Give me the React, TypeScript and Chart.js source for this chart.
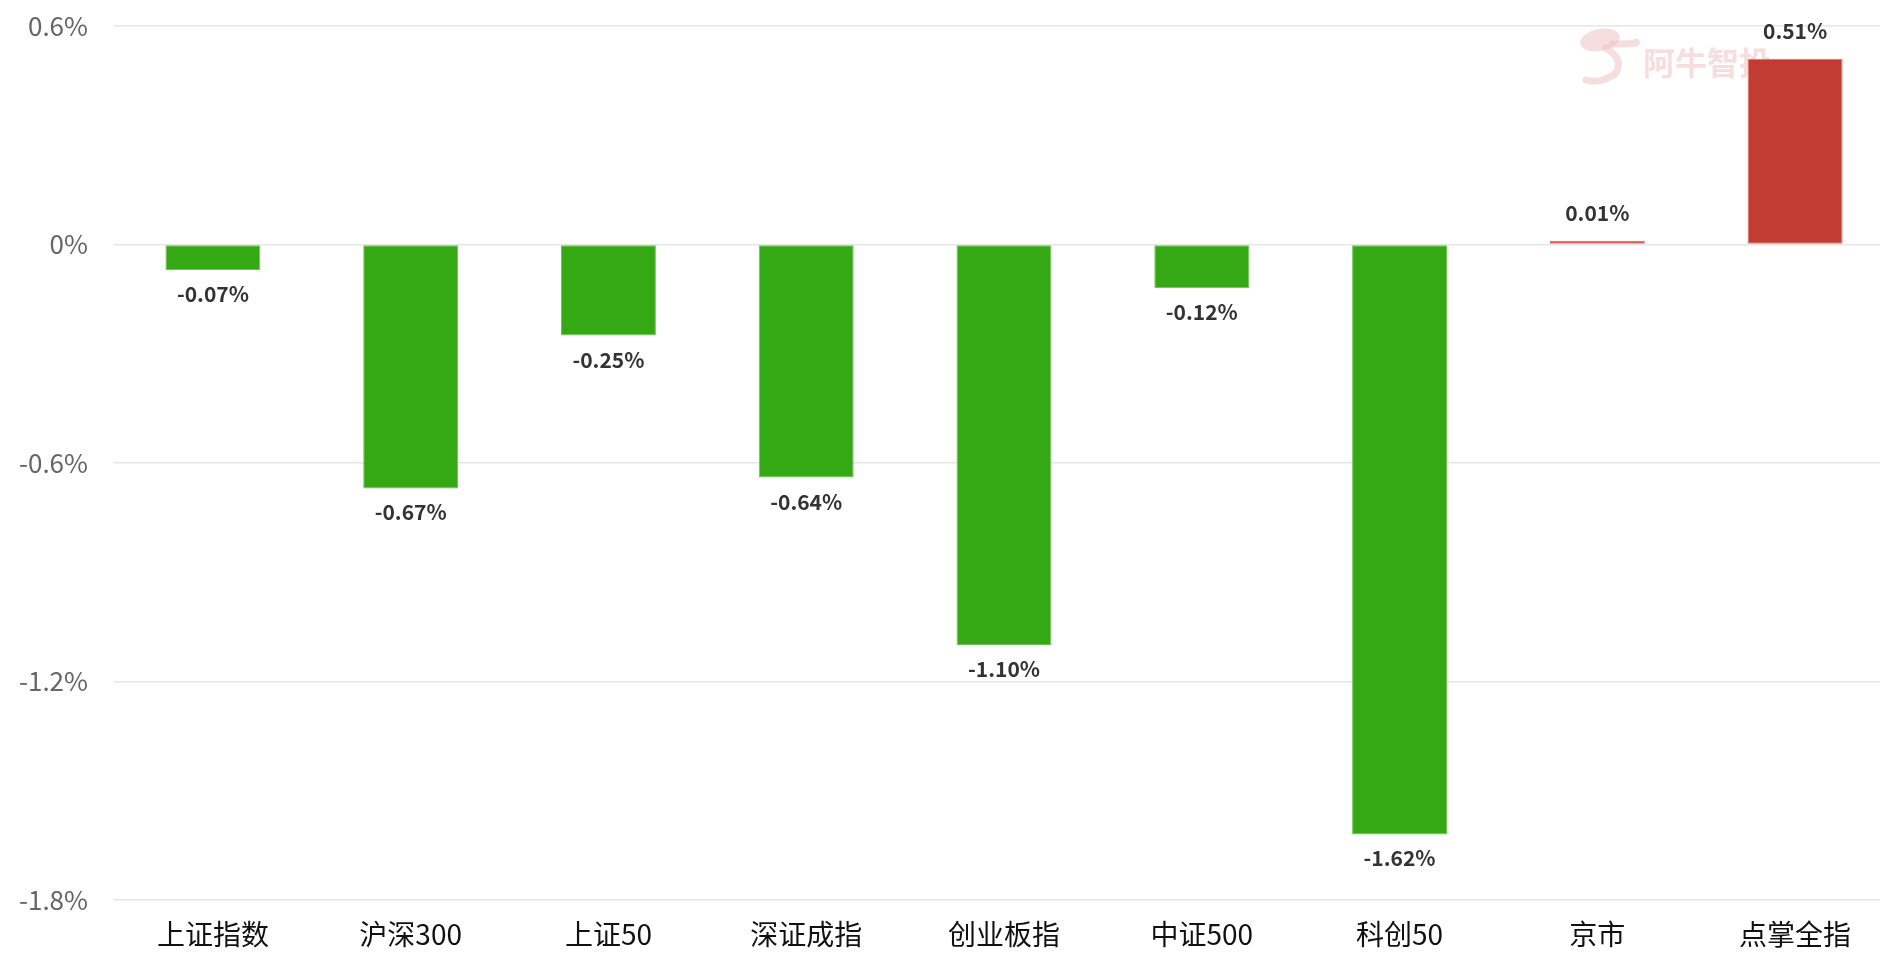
import React, { useEffect, useRef } from "react";
import { Chart, registerables } from "chart.js";

Chart.register(...registerables);

const categories = ["上证指数", "沪深300", "上证50", "深证成指", "创业板指", "中证500", "科创50", "京市", "点掌全指"];
const changes = [-0.07, -0.67, -0.25, -0.64, -1.10, -0.12, -1.62, 0.01, 0.51];
const yTickValues = [0.6, 0, -0.6, -1.2, -1.8];
const watermarkText = "阿牛智投";

const UP = "#c23c33";
const DOWN = "#34a914";
const FONT = "'Noto Sans CJK SC', 'Noto Sans', sans-serif";

const fmtPct = (v: number, d: number) => {
  const s = v.toFixed(d);
  return (d === 1 ? String(parseFloat(s)) : s) + "%";
};

const watermarkPlugin = {
  id: "watermark",
  beforeDatasetsDraw(chart: any) {
    const ctx = chart.ctx;
    ctx.save();
    ctx.fillStyle = "rgba(240, 190, 190, 0.5)";
    ctx.strokeStyle = "rgba(240, 190, 190, 0.5)";
    ctx.beginPath();
    ctx.ellipse(1600, 40, 20, 11, -0.2, 0, Math.PI * 2);
    ctx.fill();
    ctx.lineWidth = 7;
    ctx.lineCap = "round";
    ctx.beginPath();
    ctx.moveTo(1612, 44);
    ctx.quadraticCurveTo(1640, 44, 1636, 42);
    ctx.moveTo(1606, 48);
    ctx.quadraticCurveTo(1625, 60, 1615, 74);
    ctx.quadraticCurveTo(1600, 84, 1586, 80);
    ctx.stroke();
    ctx.font = `bold 32px ${FONT}`;
    ctx.textAlign = "left";
    ctx.textBaseline = "middle";
    ctx.fillText(watermarkText, 1643, 63);
    ctx.restore();
  },
};

const valueLabelPlugin = {
  id: "valueLabels",
  afterDatasetsDraw(chart: any) {
    const ctx = chart.ctx;
    const meta = chart.getDatasetMeta(0);
    const data = chart.data.datasets[0].data as number[];
    ctx.save();
    ctx.font = `600 21px ${FONT}`;
    ctx.fillStyle = "#333";
    ctx.textAlign = "center";
    ctx.textBaseline = "middle";
    meta.data.forEach((bar: any, i: number) => {
      const v = data[i];
      const y = v >= 0 ? bar.y - 28 : bar.y + 24;
      ctx.fillText(fmtPct(v, 2), bar.x, y);
    });
    ctx.restore();
  },
};

export default function App() {
  const ref = useRef<HTMLCanvasElement>(null);

  useEffect(() => {
    if (!ref.current) return;
    const chart = new Chart(ref.current, {
      type: "bar",
      data: {
        labels: categories,
        datasets: [
          {
            data: changes,
            backgroundColor: changes.map((v) => (v >= 0 ? UP : DOWN)),
            borderColor: changes.map((v) => (v >= 0 ? "#d9716b" : "#6cc456")),
            borderWidth: 1,
            borderSkipped: false,
            barPercentage: 0.48,
            categoryPercentage: 1,
          },
        ],
      },
      options: {
        responsive: false,
        animation: false,
        maintainAspectRatio: false,
        layout: { padding: { top: 26, left: 0, right: 0, bottom: 0 } },
        plugins: {
          legend: { display: false },
          tooltip: { enabled: false },
        },
        scales: {
          x: {
            grid: { display: false, drawTicks: false },
            border: { display: false },
            ticks: {
              color: "#111",
              padding: 18,
              font: { family: FONT, size: 28 },
              maxRotation: 0,
              autoSkip: false,
            },
            afterFit(scale: any) {
              scale.height = 64;
              scale.paddingLeft = 0;
              scale.paddingRight = 0;
            },
          },
          y: {
            min: -1.8,
            max: 0.6,
            afterBuildTicks(scale: any) {
              scale.ticks = [...yTickValues].sort((a, b) => a - b).map((v) => ({ value: v }));
            },
            grid: { color: "#e6e6e6", lineWidth: 1.5, drawTicks: false },
            border: { display: false },
            ticks: {
              color: "#666",
              padding: 26,
              font: { family: FONT, size: 26 },
              callback: (v: any) => fmtPct(Number(v), 1),
            },
            afterFit(scale: any) {
              scale.width = 114;
              scale.paddingTop = 0;
              scale.paddingBottom = 0;
            },
          },
        },
      },
      plugins: [watermarkPlugin, valueLabelPlugin],
    });
    return () => chart.destroy();
  }, []);

  return (
    <div style={{ position: "fixed", left: 0, top: 0, width: 1880, height: 964, overflow: "hidden", background: "#fff" }}>
      <canvas ref={ref} width={1894} height={964} style={{ width: 1894, height: 964, display: "block" }} />
    </div>
  );
}
